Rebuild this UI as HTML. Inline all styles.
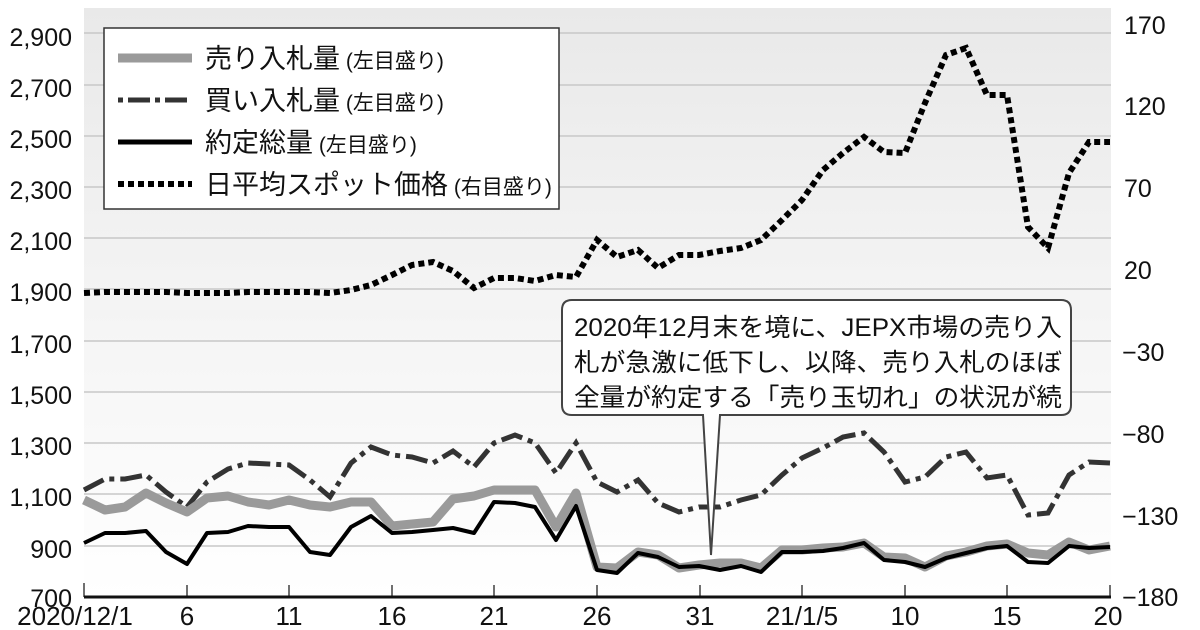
<!DOCTYPE html>
<html><head><meta charset="utf-8"><style>
html,body{margin:0;padding:0;background:#fff;}
svg{display:block;font-family:"Liberation Sans","Noto Sans CJK JP",sans-serif;}
</style></head><body>
<svg width="1200" height="630" viewBox="0 0 1200 630" xmlns="http://www.w3.org/2000/svg">
<defs>
<linearGradient id="bg" x1="0" y1="0" x2="0" y2="1">
<stop offset="0" stop-color="#e9e9e9"/><stop offset="1" stop-color="#ffffff"/>
</linearGradient>
</defs>
<rect x="84" y="8" width="1027" height="589" fill="url(#bg)"/>
<g stroke="#c8c8c8" stroke-width="1.5">
<line x1="84" x2="1111" y1="33" y2="33"/><line x1="84" x2="1111" y1="85" y2="85"/>
<line x1="84" x2="1111" y1="136" y2="136"/><line x1="84" x2="1111" y1="187" y2="187"/>
<line x1="84" x2="1111" y1="238" y2="238"/><line x1="84" x2="1111" y1="289" y2="289"/>
<line x1="84" x2="1111" y1="341" y2="341"/><line x1="84" x2="1111" y1="392" y2="392"/>
<line x1="84" x2="1111" y1="443" y2="443"/><line x1="84" x2="1111" y1="494" y2="494"/>
<line x1="84" x2="1111" y1="546" y2="546"/>
</g>
<g font-size="25" fill="#111" text-anchor="end">
<text x="72" y="46">2,900</text><text x="72" y="97">2,700</text><text x="72" y="148">2,500</text>
<text x="72" y="199">2,300</text><text x="72" y="250">2,100</text><text x="72" y="301">1,900</text>
<text x="72" y="353">1,700</text><text x="72" y="404">1,500</text><text x="72" y="455">1,300</text>
<text x="72" y="506">1,100</text><text x="72" y="558">900</text><text x="72" y="607">700</text>
</g>
<g font-size="25" fill="#111" text-anchor="start">
<text x="1124" y="34">170</text><text x="1124" y="115">120</text><text x="1124" y="197">70</text>
<text x="1124" y="279">20</text><text x="1122" y="361">−30</text><text x="1122" y="443">−80</text>
<text x="1122" y="525">−130</text><text x="1122" y="606">−180</text>
</g>
<g stroke="#111" stroke-width="3"><line x1="84" x2="1111" y1="597" y2="597"/></g>
<g stroke="#111" stroke-width="1.2">
<line x1="84" x2="84" y1="583" y2="597"/><line x1="187" x2="187" y1="585" y2="597"/>
<line x1="289" x2="289" y1="585" y2="597"/><line x1="392" x2="392" y1="585" y2="597"/>
<line x1="494" x2="494" y1="585" y2="597"/><line x1="597" x2="597" y1="585" y2="597"/>
<line x1="700" x2="700" y1="585" y2="597"/><line x1="802" x2="802" y1="585" y2="597"/>
<line x1="905" x2="905" y1="585" y2="597"/><line x1="1007" x2="1007" y1="585" y2="597"/>
<line x1="1110" x2="1110" y1="585" y2="597"/>
</g>
<g font-size="26" fill="#111" text-anchor="middle">
<text x="75" y="625">2020/12/1</text><text x="187" y="625">6</text><text x="289" y="625">11</text>
<text x="392" y="625">16</text><text x="494" y="625">21</text><text x="597" y="625">26</text>
<text x="700" y="625">31</text><text x="802" y="625">21/1/5</text><text x="905" y="625">10</text>
<text x="1007" y="625">15</text><text x="1108" y="625">20</text>
</g>
<polyline fill="none" stroke="#000" stroke-width="6" stroke-dasharray="6,4" points="84,293 105,292 125,292 146,292 166,292 187,293 207,293 228,293 248,292 269,292 289,292 310,292 330,293 351,290 371,285 392,275 412,265 433,262 453,271 474,288 494,278 515,278 535,281 556,275 576,277 597,240 617,257 638,250 658,268 679,255 699,255 720,251 741,248 761,240 782,220 802,200 823,170 843,153 864,137 884,152 905,153 925,103 946,55 966,48 987,95 1007,95 1028,227 1048,248 1069,173 1089,142 1110,142"/>
<polyline fill="none" stroke="#333" stroke-width="5" stroke-dasharray="22,6,5,6" points="84,490 105,479 125,479 146,475 166,492 187,507 207,482 228,469 248,463 269,464 289,465 310,480 330,497 351,463 371,447 392,455 412,457 433,463 453,451 474,467 494,443 515,435 535,443 556,473 576,443 597,482 617,492 638,480 658,503 679,512 699,507 720,507 741,500 761,495 782,475 802,458 823,448 843,437 864,433 884,452 905,482 925,477 946,457 966,452 987,478 1007,475 1028,515 1048,513 1069,475 1089,462 1110,463"/>
<polyline fill="none" stroke="#9a9a9a" stroke-width="9" stroke-linejoin="round" points="84,500 105,510 125,507 146,493 166,503 187,512 207,498 228,496 248,502 269,505 289,500 310,505 330,507 351,502 371,502 392,526 412,524 433,522 453,499 474,496 494,490 515,490 535,490 556,527 576,493 597,567 617,568 638,552 658,555 679,568 699,565 720,563 741,563 761,568 782,550 802,550 823,548 843,547 864,543 884,557 905,558 925,567 946,556 966,552 987,546 1007,544 1028,553 1048,555 1069,542 1089,550 1110,546"/>
<polyline fill="none" stroke="#000" stroke-width="4" stroke-linejoin="round" points="84,543 105,533 125,533 146,531 166,552 187,564 207,533 228,532 248,526 269,527 289,527 310,552 330,555 351,527 371,516 392,533 412,532 433,530 453,528 474,533 494,502 515,503 535,507 556,540 576,506 597,570 617,573 638,553 658,557 679,567 699,566 720,570 741,566 761,572 782,552 802,552 823,551 843,548 864,543 884,560 905,562 925,567 946,558 966,553 987,548 1007,546 1028,562 1048,563 1069,546 1089,548 1110,547"/>
<rect x="104" y="28" width="455" height="181" fill="#fff" stroke="#333" stroke-width="1.5"/>
<line x1="118" x2="192" y1="58" y2="58" stroke="#9a9a9a" stroke-width="9"/>
<line x1="118" x2="192" y1="100" y2="100" stroke="#333" stroke-width="5" stroke-dasharray="5,5,22,5"/>
<line x1="118" x2="192" y1="142" y2="142" stroke="#000" stroke-width="5"/>
<line x1="118" x2="192" y1="184" y2="184" stroke="#000" stroke-width="6" stroke-dasharray="6,4"/>
<g fill="#111">
<text x="205" y="68" font-size="27">売り入札量<tspan font-size="21"> (左目盛り)</tspan></text>
<text x="205" y="110" font-size="27">買い入札量<tspan font-size="21"> (左目盛り)</tspan></text>
<text x="205" y="152" font-size="27">約定総量<tspan font-size="21"> (左目盛り)</tspan></text>
<text x="205" y="194" font-size="27">日平均スポット価格<tspan font-size="21"> (右目盛り)</tspan></text>
</g>
<path d="M572,300 H1061 Q1071,300 1071,310 V405 Q1071,415 1061,415 H720 L711,555 L703,415 H572 Q562,415 562,405 V310 Q562,300 572,300 Z" fill="#fff" stroke="#444" stroke-width="2"/>
<g font-size="25" fill="#111">
<text x="574" y="336" textLength="488" lengthAdjust="spacingAndGlyphs">2020年12月末を境に、JEPX市場の売り入</text>
<text x="574" y="371" textLength="488" lengthAdjust="spacingAndGlyphs">札が急激に低下し、以降、売り入札のほぼ</text>
<text x="574" y="406" textLength="488" lengthAdjust="spacingAndGlyphs">全量が約定する「売り玉切れ」の状況が続</text>
</g>
</svg>
</body></html>
